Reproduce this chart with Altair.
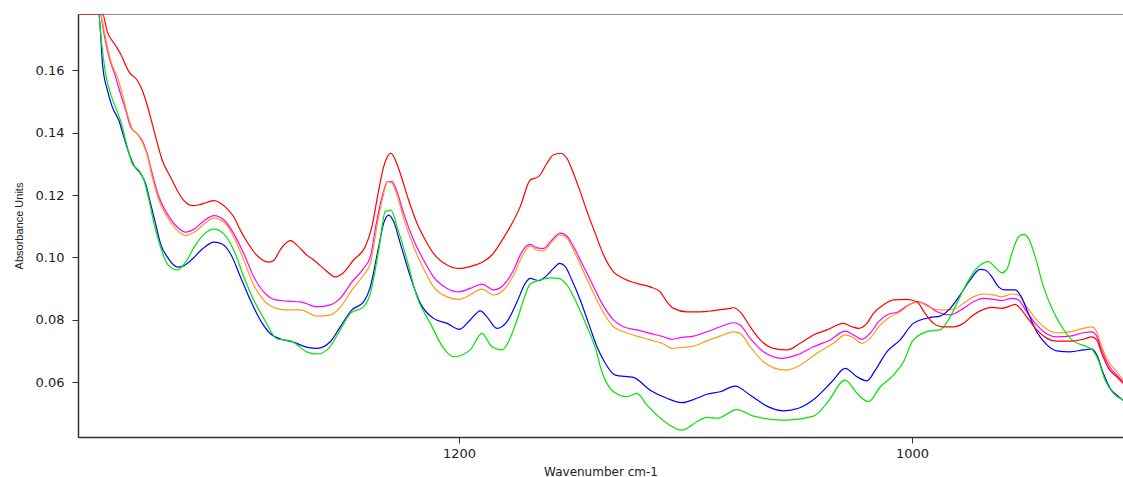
import altair as alt
import pandas as pd

# Wavenumber (cm-1) and absorbance readings for each spectrum
wn_red = [1368.3, 1357.5, 1355.3, 1351.7, 1349.5, 1345.7, 1342.1, 1339.9, 1337.7, 1335.5, 1333.2, 1331.0,
          1327.4, 1324.4, 1321.5, 1317.8, 1314.8, 1311.2, 1308.2, 1305.3, 1302.3, 1299.4, 1296.5, 1293.5,
          1289.8, 1286.9, 1283.9, 1281.7, 1278.8, 1274.4, 1271.4, 1267.0, 1264.2, 1259.1, 1254.7, 1251.7,
          1246.6, 1241.4, 1238.5, 1235.5, 1233.3, 1231.8, 1230.1, 1228.2, 1226.0, 1222.3, 1218.6, 1214.9,
          1211.3, 1205.3, 1200.2, 1195.1, 1189.2, 1185.5, 1181.8, 1177.4, 1173.0, 1168.6, 1164.9, 1161.2,
          1158.3, 1155.3, 1152.4, 1149.5, 1146.5, 1143.5, 1139.9, 1136.2, 1131.8, 1127.4, 1121.5, 1115.6,
          1111.2, 1108.2, 1105.3, 1099.4, 1093.5, 1087.6, 1080.3, 1078.8, 1075.9, 1071.4, 1067.0, 1061.2,
          1055.2, 1049.4, 1043.5, 1037.6, 1030.2, 1026.5, 1023.6, 1019.9, 1017.0, 1012.6, 1008.2, 1002.3,
          997.8, 994.2, 990.5, 986.8, 981.7, 977.3, 972.9, 968.4, 964.7, 960.3, 956.6, 954.4, 952.2, 949.3,
          944.9, 940.4, 936.0, 930.2, 924.3, 920.6, 918.4, 916.2, 913.2, 909.5, 906.8]
ab_red = [0.185, 0.1780, 0.1722, 0.1679, 0.1652, 0.1594, 0.1567, 0.1535, 0.1487, 0.1428, 0.1364, 0.1310,
          0.1257, 0.1214, 0.1182, 0.1166, 0.1169, 0.1177, 0.1182, 0.1174, 0.1155, 0.1129, 0.1086, 0.1049,
          0.1011, 0.0992, 0.0985, 0.0992, 0.1027, 0.1054, 0.1038, 0.1006, 0.0992, 0.0960, 0.0938, 0.0947,
          0.0992, 0.1035, 0.1099, 0.1216, 0.1291, 0.1321, 0.1334, 0.1313, 0.1270, 0.1184, 0.1110, 0.1056,
          0.1013, 0.0976, 0.0965, 0.0971, 0.0987, 0.1008, 0.1046, 0.1099, 0.1163, 0.1248, 0.1259, 0.1302,
          0.1329, 0.1334, 0.1318, 0.1270, 0.1211, 0.1147, 0.1078, 0.1008, 0.0954, 0.0933, 0.0917, 0.0906,
          0.0890, 0.0858, 0.0837, 0.0826, 0.0826, 0.0830, 0.0837, 0.0839, 0.0826, 0.0778, 0.0736, 0.0709,
          0.0704, 0.0725, 0.0752, 0.0768, 0.0789, 0.0778, 0.0773, 0.0789, 0.0821, 0.0848, 0.0864, 0.0866,
          0.0858, 0.0821, 0.0789, 0.0778, 0.0778, 0.0789, 0.0816, 0.0834, 0.0840, 0.0837, 0.0845, 0.0850,
          0.0837, 0.0810, 0.0768, 0.0741, 0.0732, 0.0732, 0.0738, 0.0746, 0.0736, 0.0693, 0.0645, 0.0618,
          0.0597]

wn_magenta = [1368.3, 1358.5, 1356.8, 1354.6, 1351.7, 1349.5, 1347.2, 1345.0, 1342.1, 1339.9, 1337.7, 1335.5,
              1332.5, 1328.8, 1324.4, 1320.8, 1317.0, 1312.6, 1308.2, 1303.8, 1299.4, 1295.0, 1290.6, 1286.1,
              1281.0, 1275.9, 1270.1, 1262.7, 1256.9, 1252.5, 1247.3, 1242.2, 1239.2, 1236.3, 1233.6, 1231.6,
              1229.6, 1227.4, 1224.5, 1220.1, 1215.7, 1211.3, 1205.3, 1200.2, 1195.1, 1189.9, 1184.8, 1180.4,
              1175.9, 1172.2, 1168.6, 1165.6, 1162.7, 1159.0, 1155.3, 1152.4, 1149.5, 1145.7, 1141.3, 1136.9,
              1131.8, 1127.4, 1121.5, 1115.6, 1109.7, 1106.0, 1101.6, 1096.5, 1090.6, 1084.7, 1078.8, 1075.9,
              1071.4, 1065.6, 1057.4, 1050.8, 1043.5, 1036.1, 1029.5, 1025.8, 1022.1, 1018.5, 1014.8, 1010.4,
              1006.0, 1001.6, 997.1, 993.4, 989.0, 983.1, 977.3, 972.9, 968.4, 964.0, 960.3, 955.9, 953.0,
              949.3, 944.9, 940.4, 936.0, 930.2, 924.3, 920.6, 918.4, 916.2, 913.2, 909.5, 906.8]
ab_magenta = [0.185, 0.1780, 0.1716, 0.1642, 0.1578, 0.1524, 0.1471, 0.1417, 0.1396, 0.1374, 0.1332, 0.1268,
              0.1193, 0.1139, 0.1097, 0.1081, 0.1091, 0.1118, 0.1134, 0.1120, 0.1075, 0.1011, 0.0937, 0.0888,
              0.0864, 0.0860, 0.0858, 0.0842, 0.0848, 0.0869, 0.0922, 0.0965, 0.1003, 0.1120, 0.1206, 0.1243,
              0.1243, 0.1211, 0.1142, 0.1056, 0.0992, 0.0938, 0.0901, 0.0890, 0.0901, 0.0915, 0.0896, 0.0912,
              0.0960, 0.1019, 0.1042, 0.1031, 0.1029, 0.1056, 0.1078, 0.1069, 0.1035, 0.0981, 0.0917, 0.0853,
              0.0800, 0.0778, 0.0768, 0.0757, 0.0746, 0.0738, 0.0744, 0.0748, 0.0762, 0.0778, 0.0791, 0.0784,
              0.0741, 0.0698, 0.0677, 0.0688, 0.0714, 0.0736, 0.0764, 0.0752, 0.0738, 0.0757, 0.0794, 0.0818,
              0.0826, 0.0848, 0.0858, 0.0848, 0.0826, 0.0816, 0.0837, 0.0858, 0.0869, 0.0866, 0.0862, 0.0869,
              0.0864, 0.0826, 0.0784, 0.0755, 0.0746, 0.0748, 0.0759, 0.0762, 0.0748, 0.0704, 0.0655, 0.0623,
              0.0602]

wn_orange = [1368.3, 1358.5, 1356.5, 1353.9, 1350.9, 1348.7, 1346.5, 1344.3, 1342.1, 1339.9, 1337.7, 1335.5,
             1332.5, 1328.8, 1324.4, 1320.8, 1317.0, 1312.6, 1308.2, 1303.8, 1299.4, 1295.0, 1290.6, 1286.1,
             1281.0, 1275.9, 1270.1, 1262.7, 1256.9, 1252.5, 1247.3, 1242.2, 1239.2, 1236.3, 1233.6, 1231.6,
             1229.6, 1227.4, 1224.5, 1220.1, 1215.7, 1211.3, 1205.3, 1200.2, 1195.1, 1189.9, 1184.8, 1180.4,
             1175.9, 1172.2, 1168.6, 1165.6, 1162.7, 1159.0, 1155.3, 1152.4, 1149.5, 1145.7, 1141.3, 1136.9,
             1131.8, 1127.4, 1121.5, 1115.6, 1109.7, 1106.0, 1101.6, 1096.5, 1090.6, 1084.7, 1078.8, 1075.9,
             1071.4, 1065.6, 1056.0, 1049.4, 1042.0, 1034.7, 1029.5, 1025.8, 1022.1, 1018.5, 1014.0, 1009.6,
             1005.2, 1000.8, 997.1, 992.7, 987.6, 981.7, 977.3, 972.9, 968.4, 964.0, 960.3, 955.9, 953.0,
             949.3, 944.9, 940.4, 936.0, 930.2, 924.3, 920.6, 918.4, 916.2, 913.2, 909.5, 906.8]
ab_orange = [0.185, 0.1780, 0.1716, 0.1631, 0.1578, 0.1524, 0.1460, 0.1412, 0.1396, 0.1369, 0.1326, 0.1257,
             0.1182, 0.1129, 0.1086, 0.1070, 0.1081, 0.1107, 0.1127, 0.1113, 0.1065, 0.0990, 0.0910, 0.0862,
             0.0838, 0.0832, 0.0832, 0.0812, 0.0816, 0.0840, 0.0896, 0.0944, 0.0981, 0.1099, 0.1195, 0.1243,
             0.1238, 0.1200, 0.1126, 0.1035, 0.0965, 0.0906, 0.0874, 0.0866, 0.0880, 0.0899, 0.0880, 0.0896,
             0.0944, 0.1003, 0.1037, 0.1024, 0.1021, 0.1051, 0.1072, 0.1062, 0.1024, 0.0965, 0.0896, 0.0832,
             0.0778, 0.0762, 0.0748, 0.0736, 0.0723, 0.0709, 0.0712, 0.0716, 0.0733, 0.0748, 0.0762, 0.0757,
             0.0714, 0.0666, 0.0639, 0.0655, 0.0693, 0.0725, 0.0752, 0.0743, 0.0725, 0.0741, 0.0784, 0.0810,
             0.0826, 0.0850, 0.0858, 0.0842, 0.0832, 0.0834, 0.0853, 0.0874, 0.0883, 0.0880, 0.0874, 0.0883,
             0.0880, 0.0842, 0.0800, 0.0770, 0.0759, 0.0762, 0.0773, 0.0778, 0.0762, 0.0714, 0.0666, 0.0634,
             0.0607]

wn_blue = [1368.3, 1359.2, 1358.3, 1357.5, 1355.3, 1353.1, 1350.2, 1348.0, 1345.7, 1343.5, 1340.6, 1338.4,
           1336.2, 1334.0, 1331.8, 1328.8, 1324.4, 1321.5, 1317.8, 1313.4, 1308.2, 1304.6, 1300.9, 1296.5,
           1292.1, 1287.6, 1283.2, 1278.8, 1272.9, 1267.0, 1262.7, 1256.9, 1252.5, 1247.3, 1242.2, 1239.2,
           1235.5, 1233.3, 1231.1, 1228.9, 1226.0, 1221.5, 1217.1, 1211.3, 1205.3, 1199.8, 1195.1, 1190.6,
           1187.7, 1183.3, 1178.9, 1174.4, 1170.8, 1168.6, 1164.9, 1161.9, 1158.3, 1155.6, 1153.1, 1150.2,
           1146.5, 1142.8, 1139.1, 1136.2, 1131.0, 1123.0, 1115.6, 1108.2, 1101.6, 1095.0, 1090.6, 1084.7,
           1078.1, 1071.4, 1064.1, 1056.7, 1050.1, 1042.7, 1035.4, 1029.5, 1024.3, 1019.9, 1016.2, 1011.1,
           1005.2, 999.4, 992.0, 987.6, 983.1, 978.7, 974.3, 969.9, 967.7, 964.7, 961.8, 958.9, 954.4,
           952.2, 948.6, 944.9, 940.4, 936.0, 930.2, 924.3, 920.6, 918.4, 915.5, 912.5, 909.5, 906.8]
ab_blue = [0.185, 0.1780, 0.1716, 0.1620, 0.1535, 0.1481, 0.1438, 0.1385, 0.1332, 0.1294, 0.1268, 0.1236,
           0.1171, 0.1107, 0.1043, 0.1001, 0.0969, 0.0974, 0.0995, 0.1027, 0.1049, 0.1043, 0.1011, 0.0937,
           0.0862, 0.0797, 0.0755, 0.0739, 0.0728, 0.0712, 0.0709, 0.0730, 0.0778, 0.0832, 0.0858, 0.0906,
           0.1035, 0.1110, 0.1136, 0.1115, 0.1046, 0.0938, 0.0853, 0.0805, 0.0789, 0.0770, 0.0800, 0.0829,
           0.0810, 0.0773, 0.0794, 0.0858, 0.0917, 0.0933, 0.0926, 0.0938, 0.0965, 0.0981, 0.0971, 0.0928,
           0.0864, 0.0789, 0.0714, 0.0671, 0.0623, 0.0616, 0.0575, 0.0549, 0.0535, 0.0549, 0.0562, 0.0570,
           0.0588, 0.0559, 0.0524, 0.0509, 0.0517, 0.0549, 0.0602, 0.0645, 0.0618, 0.0605, 0.0639, 0.0698,
           0.0736, 0.0789, 0.0808, 0.0812, 0.0837, 0.0880, 0.0928, 0.0962, 0.0960, 0.0938, 0.0906, 0.0896,
           0.0896, 0.0880, 0.0821, 0.0762, 0.0720, 0.0701, 0.0698, 0.0704, 0.0707, 0.0688, 0.0629, 0.0581,
           0.0559, 0.0543]

wn_green = [1368.3, 1359.2, 1358.0, 1356.1, 1353.9, 1351.7, 1349.5, 1346.5, 1344.3, 1341.3, 1339.1, 1336.9,
            1334.7, 1331.8, 1328.8, 1324.4, 1320.8, 1317.0, 1312.6, 1308.2, 1303.8, 1299.4, 1295.0, 1290.6,
            1286.1, 1280.3, 1274.4, 1267.0, 1262.7, 1258.3, 1252.5, 1248.0, 1242.2, 1239.2, 1235.5, 1232.6,
            1230.1, 1227.4, 1223.0, 1218.6, 1212.7, 1206.8, 1202.4, 1195.1, 1189.9, 1185.5, 1181.1, 1178.2,
            1174.4, 1170.8, 1168.6, 1164.2, 1159.7, 1156.1, 1152.4, 1148.0, 1143.5, 1139.1, 1137.6, 1131.8,
            1125.9, 1121.5, 1117.0, 1108.2, 1101.6, 1095.0, 1090.6, 1086.1, 1077.3, 1070.0, 1056.7, 1043.5,
            1037.6, 1029.5, 1024.3, 1019.2, 1014.0, 1008.2, 1003.7, 999.4, 992.0, 987.6, 983.9, 980.2, 975.8,
            970.6, 966.2, 963.3, 960.3, 958.1, 955.9, 953.0, 950.8, 948.6, 945.6, 941.9, 938.2, 933.8, 929.4,
            925.0, 920.6, 917.7, 914.7, 911.0, 906.8]
ab_green = [0.185, 0.1780, 0.1695, 0.1588, 0.1524, 0.1481, 0.1438, 0.1353, 0.1300, 0.1278, 0.1246, 0.1182,
            0.1107, 0.1033, 0.0979, 0.0960, 0.0985, 0.1033, 0.1075, 0.1091, 0.1075, 0.1022, 0.0937, 0.0862,
            0.0803, 0.0739, 0.0733, 0.0697, 0.0691, 0.0704, 0.0768, 0.0821, 0.0842, 0.0885, 0.1024, 0.1147,
            0.1152, 0.1099, 0.0992, 0.0874, 0.0789, 0.0709, 0.0682, 0.0704, 0.0757, 0.0714, 0.0704, 0.0730,
            0.0800, 0.0880, 0.0915, 0.0928, 0.0935, 0.0933, 0.0912, 0.0853, 0.0778, 0.0693, 0.0650, 0.0570,
            0.0554, 0.0565, 0.0527, 0.0469, 0.0447, 0.0474, 0.0488, 0.0485, 0.0513, 0.0492, 0.0479, 0.0492,
            0.0533, 0.0607, 0.0565, 0.0538, 0.0586, 0.0623, 0.0666, 0.0736, 0.0765, 0.0768, 0.0800, 0.0853,
            0.0917, 0.0971, 0.0987, 0.0969, 0.0951, 0.0962, 0.1013, 0.1065, 0.1074, 0.1062, 0.1003, 0.0906,
            0.0837, 0.0778, 0.0736, 0.0720, 0.0706, 0.0671, 0.0607, 0.0565, 0.0543]

series = [
    ("S1", "#ff00ff", wn_magenta, ab_magenta),
    ("S2", "#ff9a1a", wn_orange, ab_orange),
    ("S3", "#0000ff", wn_blue, ab_blue),
    ("S4", "#00e600", wn_green, ab_green),
    ("S5", "#ff0000", wn_red, ab_red),
]

frames = []
for name, _, wn, ab in series:
    frames.append(pd.DataFrame({"spectrum": name, "wavenumber": wn, "absorbance": ab}))
df = pd.concat(frames, ignore_index=True)

x_ticks = [1200, 1000]
y_ticks = [0.06, 0.08, 0.10, 0.12, 0.14, 0.16]

chart = (
    alt.Chart(df)
    .mark_line(strokeWidth=1.2, interpolate="monotone", clip=True)
    .encode(
        x=alt.X(
            "wavenumber:Q",
            scale=alt.Scale(domain=[906.8, 1368.3], reverse=True, nice=False, zero=False),
            axis=alt.Axis(
                values=x_ticks, format="d", title="Wavenumber cm-1", grid=False,
                tickSize=6, labelPadding=4, titlePadding=6,
                titleFont="DejaVu Sans", titleFontSize=12, titleFontWeight="normal",
            ),
        ),
        y=alt.Y(
            "absorbance:Q",
            scale=alt.Scale(domain=[0.0425, 0.178], nice=False, zero=False, clamp=True),
            axis=alt.Axis(
                values=y_ticks, format=".2f", title="Absorbance Units", grid=False,
                tickSize=6, labelPadding=8, titlePadding=11,
                titleFont="Liberation Sans", titleFontSize=11, titleFontWeight="normal",
            ),
        ),
        color=alt.Color(
            "spectrum:N",
            scale=alt.Scale(domain=[s[0] for s in series], range=[s[1] for s in series]),
            legend=None,
        ),
        detail="spectrum:N",
        order=alt.Order("wavenumber:Q"),
    )
    .properties(width=1045, height=423, padding={"left": 78, "top": 14, "right": 0, "bottom": 40},
                autosize=alt.AutoSizeParams(type="none"), background="white")
    .configure_view(stroke="#8c8c8c", strokeWidth=1)
    .configure_axis(
        domainColor="#333333", domainWidth=1.5, tickColor="#333333", tickWidth=1,
        labelFont="DejaVu Sans", labelFontSize=13, labelColor="#222222",
        titleColor="#222222",
    )
)

chart.save("out.html", embed_options={"renderer": "svg", "actions": False})
